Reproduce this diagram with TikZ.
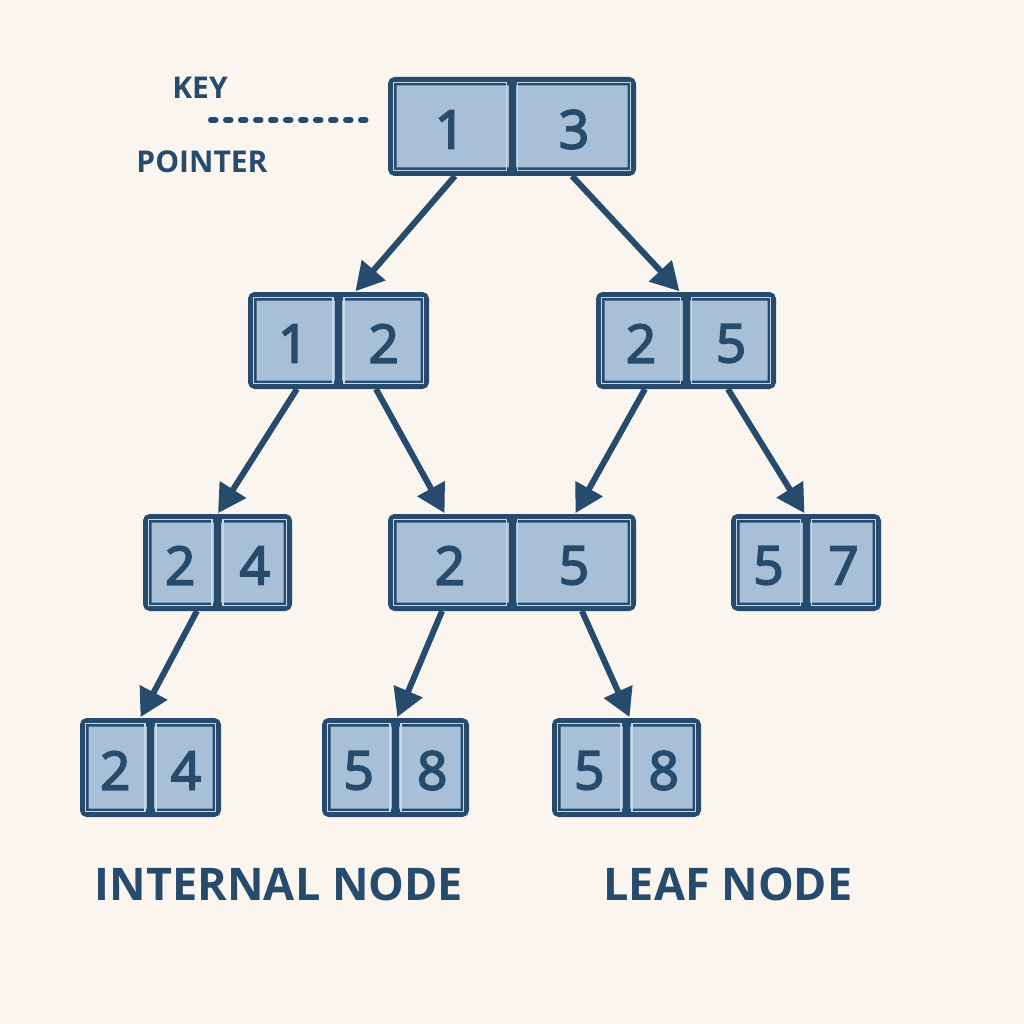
\documentclass[tikz,border=0pt]{standalone}
\usepackage{fontspec}
\setmainfont{Open Sans}
\newfontfamily\digitfont{Open Sans}[FakeBold=3.5]
\usetikzlibrary{arrows.meta,calc}
\definecolor{bg}{HTML}{FBF5EF}
\definecolor{ink}{HTML}{274B6D}
\definecolor{cellfill}{HTML}{A7C0D8}
\definecolor{cellline}{HTML}{C6D7E6}
\tikzset{
  bbox/.style={draw=ink, fill=cellfill, line width=8.5pt, rounded corners=3pt, inner sep=0pt},
  divider/.style={draw=ink, line width=7pt},
  innerline/.style={draw=cellline, line width=1.2pt},
  digit/.style={text=ink, font=\digitfont\fontsize{53}{53}\selectfont, inner sep=0pt},
  arr/.style={draw=ink, line width=6pt, -{Triangle[length=28pt,width=30pt]}, shorten >=1pt},
  label/.style={text=ink, font=\bfseries\fontsize{45}{45}\selectfont, inner sep=0pt},
  smalllabel/.style={text=ink, font=\bfseries\fontsize{30}{30}\selectfont, inner sep=0pt},
  dots/.style={draw=ink, line width=6pt, line cap=round, dash pattern=on 4.5pt off 10.5pt}
}
\newcommand{\treebox}[7]{%
  \node[bbox, minimum width=#4pt-8.5pt, minimum height=#5pt-8.5pt] (#1) at (#2,#3) {};
  \draw[innerline] ([shift={(5.5pt,-5.5pt)}]#1.north west) rectangle ([shift={(-5.5pt,5.5pt)}]#1.south);
  \draw[innerline] ([shift={(5.5pt,-5.5pt)}]#1.north) rectangle ([shift={(-5.5pt,5.5pt)}]#1.south east);
  \draw[divider] (#1.north) -- (#1.south);
  \node[digit] (#1-a) at ($(#1.west)!0.5!(#1.center)+(0,-3pt)$) {#6};
  \node[digit] (#1-b) at ($(#1.east)!0.5!(#1.center)+(0,-3pt)$) {#7};
}
\begin{document}
\begin{tikzpicture}[x=1pt,y=-1pt]
\fill[bg] (0,0) rectangle (1024,1024);
\useasboundingbox (0,0) rectangle (1024,1024);

\treebox{root}{512}{126.5}{248}{99}{1}{3}
\treebox{lA}{338.5}{340.5}{181}{97}{1}{2}
\treebox{lB}{686}{340.5}{180}{97}{2}{5}
\treebox{mA}{217.5}{562.5}{149}{97}{2}{4}
\treebox{mB}{512}{562.5}{248}{97}{2}{5}
\treebox{mC}{806}{562.5}{150}{97}{5}{7}
\treebox{nA}{150.5}{767.5}{141}{99}{2}{4}
\treebox{nB}{395.5}{767.5}{147}{99}{5}{8}
\treebox{nC}{626.5}{767.5}{149}{99}{5}{8}

\draw[arr] ($(root.south west)!0.27!(root.south east)$) -- ($(lA.north west)!0.59!(lA.north east)$);
\draw[arr] ($(root.south west)!0.742!(root.south east)$) -- ($(lB.north west)!0.467!(lB.north east)$);
\draw[arr] ($(lA.south west)!0.27!(lA.south east)$) -- ($(mA.north west)!0.50!(mA.north east)$);
\draw[arr] ($(lA.south west)!0.707!(lA.south east)$) -- ($(mB.north west)!0.23!(mB.north east)$);
\draw[arr] ($(lB.south west)!0.272!(lB.south east)$) -- ($(mB.north west)!0.754!(mB.north east)$);
\draw[arr] ($(lB.south west)!0.733!(lB.south east)$) -- ($(mC.north west)!0.493!(mC.north east)$);
\draw[arr] ($(mA.south west)!0.362!(mA.south east)$) -- ($(nA.north west)!0.426!(nA.north east)$);
\draw[arr] ($(mB.south west)!0.218!(mB.south east)$) -- ($(nB.north west)!0.51!(nB.north east)$);
\draw[arr] ($(mB.south west)!0.782!(mB.south east)$) -- ($(nC.north west)!0.523!(nC.north east)$);

\node[smalllabel] (key) at (200,88) {KEY};
\node[smalllabel] (pointer) at (202,162) {POINTER};
\coordinate (d1) at (211,120);
\coordinate (d2) at (370,120);
\draw[dots] (d1) -- (d2);

\node[label] (internal) at (279,884) {INTERNAL NODE};
\node[label] (leaf) at (728,884) {LEAF NODE};
\end{tikzpicture}
\end{document}
